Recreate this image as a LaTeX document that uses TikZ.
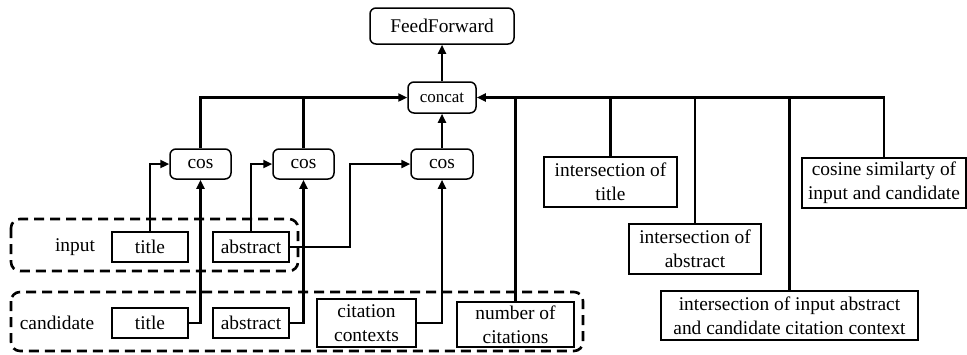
\documentclass[tikz,border=0pt]{standalone}
\usepackage{fontspec}
\setmainfont{Liberation Serif}
\usetikzlibrary{arrows.meta}
\begin{document}
\begin{tikzpicture}[x=1pt,y=-1pt,
  box/.style={draw,line width=1.5pt,inner sep=0pt,align=center,font=\fontsize{19.4}{24}\selectfont},
  rbox/.style={box,rounded corners=6pt},
  grp/.style={draw,line width=2.6pt,dash pattern=on 10pt off 6pt,rounded corners=9pt},
  conn/.style={line width=2.5pt},
  arr/.style={conn,-{Triangle[length=9pt,width=8pt]}},
  lbl/.style={font=\fontsize{19.4}{24}\selectfont,inner sep=0pt}]
\useasboundingbox (0,0) rectangle (967,354);
% groups
\draw[grp] (11,219) rectangle (298,271);
\draw[grp] (11,292) rectangle (583,351);
\node[lbl] (inlbl) at (75,247) {input};
\node[lbl] (calbl) at (57,323) {candidate};
% top
\node[rbox,minimum width=144pt,minimum height=36pt] (ff) at (442,26) {FeedForward};
\node[rbox,minimum width=68pt,minimum height=31pt,font=\fontsize{17}{20}\selectfont] (concat) at (442,97.5) {concat};
\node[rbox,minimum width=61pt,minimum height=30pt] (cos1) at (200.5,164) {cos};
\node[rbox,minimum width=61pt,minimum height=30pt] (cos2) at (303.5,164) {cos};
\node[rbox,minimum width=62pt,minimum height=30pt] (cos3) at (442,164) {cos};
% inputs
\node[box,minimum width=76pt,minimum height=30pt] (intitle) at (150,247) {title};
\node[box,minimum width=76pt,minimum height=30pt] (inabs) at (251,247) {abstract};
\node[box,minimum width=76pt,minimum height=30pt] (catitle) at (150,323) {title};
\node[box,minimum width=76pt,minimum height=30pt] (caabs) at (251,323) {abstract};
\node[box,minimum width=99pt,minimum height=48pt] (cit) at (366.5,323) {citation\\contexts};
\node[box,minimum width=117pt,minimum height=45pt] (num) at (515.5,324.5) {number of\\citations};
% right features
\node[box,minimum width=133pt,minimum height=50pt] (it) at (610.5,182) {intersection of\\title};
\node[box,minimum width=132pt,minimum height=50pt] (ia) at (695,249) {intersection of\\abstract};
\node[box,minimum width=257pt,minimum height=49pt] (iac) at (789.5,315.5) {intersection of input abstract\\and candidate citation context};
\node[box,minimum width=164pt,minimum height=50pt] (cs) at (884,183) {cosine similarty of\\input and candidate};
\coordinate (bend) at (350,200);
% connectors
\draw[arr] (intitle.north) |- (cos1.west);
\draw[arr] (catitle.east) -| (cos1.south);
\draw[arr] (inabs.north) |- (cos2.west);
\draw[arr] (caabs.east) -| (cos2.south);
\draw[arr] (inabs.east) -| (bend) |- (cos3.west);
\draw[arr] (cit.east) -| (cos3.south);
\draw[arr] (cos3.north) -- (concat.south);
\draw[arr] (concat.north) -- (ff.south);
\draw[arr] (cos1.north) |- (concat.west);
\draw[conn] (cos2.north) -- (cos2.north |- concat.west);
\draw[arr] (cs.north) |- (concat.east);
\draw[conn] (num.north) -- (num.north |- concat.east);
\draw[conn] (it.north) -- (it.north |- concat.east);
\draw[conn] (ia.north) -- (ia.north |- concat.east);
\draw[conn] (iac.north) -- (iac.north |- concat.east);
\end{tikzpicture}
\end{document}
